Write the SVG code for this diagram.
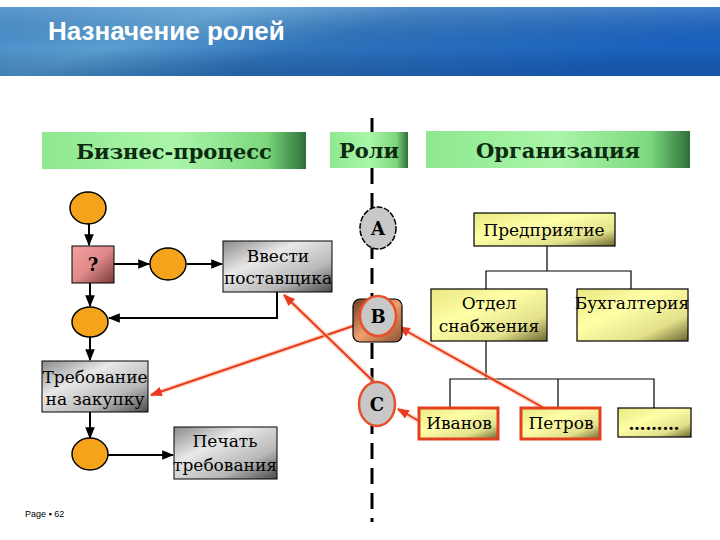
<svg xmlns="http://www.w3.org/2000/svg" width="720" height="540" viewBox="0 0 720 540">
<defs>
<linearGradient id="banner" x1="0" y1="0" x2="1" y2="0.3">
<stop offset="0" stop-color="#3f86c6"/><stop offset="0.3" stop-color="#5a9ed2"/><stop offset="0.55" stop-color="#2f74bc"/><stop offset="1" stop-color="#1a62c0"/>
</linearGradient>
<linearGradient id="bannerShade" x1="0" y1="0" x2="0" y2="1">
<stop offset="0" stop-color="#ffffff" stop-opacity="0.15"/><stop offset="0.6" stop-color="#000000" stop-opacity="0"/><stop offset="1" stop-color="#0a3060" stop-opacity="0.25"/>
</linearGradient>
<linearGradient id="green" x1="0" y1="0" x2="1" y2="0">
<stop offset="0" stop-color="#8ee88e"/><stop offset="0.5" stop-color="#aaf5aa"/><stop offset="0.85" stop-color="#7cd87c"/><stop offset="1" stop-color="#2f6f3a"/>
</linearGradient>
<linearGradient id="gray" x1="0" y1="0" x2="1" y2="1">
<stop offset="0" stop-color="#8a8a8a"/><stop offset="0.35" stop-color="#e8e8e8"/><stop offset="0.7" stop-color="#b8b8b8"/><stop offset="1" stop-color="#4a4a4a"/>
</linearGradient>
<linearGradient id="pink" x1="0" y1="0" x2="1" y2="1">
<stop offset="0" stop-color="#f2a0a0"/><stop offset="0.5" stop-color="#e08a8a"/><stop offset="1" stop-color="#7a3838"/>
</linearGradient>
<linearGradient id="yellow" x1="0" y1="0" x2="1" y2="1">
<stop offset="0" stop-color="#e8e880"/><stop offset="0.4" stop-color="#ffffa8"/><stop offset="0.75" stop-color="#e2e08a"/><stop offset="1" stop-color="#6a6430"/>
</linearGradient>
<linearGradient id="brown" x1="0" y1="0" x2="1" y2="1">
<stop offset="0" stop-color="#6a3a20"/><stop offset="0.5" stop-color="#f0a070"/><stop offset="1" stop-color="#8a5030"/>
</linearGradient>
<marker id="ah" viewBox="0 0 10 10" refX="9" refY="5" markerWidth="6" markerHeight="6" orient="auto">
<path d="M0,1 L10,5 L0,9 z" fill="#000"/>
</marker>
<marker id="rah" viewBox="0 0 10 10" refX="9" refY="5" markerWidth="6" markerHeight="6" orient="auto">
<path d="M0,1 L10,5 L0,9 z" fill="#e83a1e"/>
</marker>
</defs>
<style>
.hdr{fill:url(#green)}
.htxt{font-family:"DejaVu Serif","Liberation Serif",serif;font-weight:bold;font-size:21px;fill:#0b2a10;text-anchor:middle}
.txt{font-family:"DejaVu Serif","Liberation Serif",serif;font-size:17px;fill:#000;text-anchor:middle}
.ev{fill:#f6a31c;stroke:#000;stroke-width:1.5}
.gbox{fill:url(#gray);stroke:#000;stroke-width:1}
.ybox{fill:url(#yellow);stroke:#000;stroke-width:1.2}
.rbox{fill:url(#yellow);stroke:#e0401e;stroke-width:3}
.role{fill:#c8c8c8;stroke:#000;stroke-width:1.5}
.roler{fill:#c8c8c8;stroke:#e8502a;stroke-width:2.5}
.flow{fill:none;stroke:#000;stroke-width:2}
.tree{fill:none;stroke:#000;stroke-width:1.2}
.red{fill:none;stroke:#e83a1e;stroke-width:2}
.glow{fill:none;stroke:#ffc0a0;stroke-width:5;stroke-opacity:0.6}
.rtxt{font-family:"DejaVu Serif","Liberation Serif",serif;font-weight:bold;font-size:18px;fill:#000;text-anchor:middle}
</style>
<rect width="720" height="540" fill="#ffffff"/>
<g id="banner-g">
<rect x="0" y="7" width="720" height="69" fill="url(#banner)"/>
<rect x="0" y="7" width="720" height="69" fill="url(#bannerShade)"/>
<text x="48" y="40" font-family="Liberation Sans, Arial, sans-serif" font-weight="bold" font-size="26" fill="#ffffff">Назначение ролей</text>
</g>
<g id="divider">
<line x1="372" y1="118" x2="372" y2="522" stroke="#000" stroke-width="3" stroke-dasharray="16 9"/>
</g>
<g id="hdr-bp"><rect class="hdr" x="42" y="132" width="264" height="37"/><text class="htxt" x="174" y="159">Бизнес-процесс</text></g>
<g id="hdr-roles"><rect class="hdr" x="330" y="132" width="78" height="36"/><text class="htxt" x="369" y="158">Роли</text></g>
<g id="hdr-org"><rect class="hdr" x="426" y="131" width="264" height="37"/><text class="htxt" x="558" y="158">Организация</text></g>

<g id="connectors">
<line class="flow" x1="89" y1="224" x2="89" y2="245" marker-end="url(#ah)"/>
<line class="flow" x1="114" y1="264" x2="149" y2="264" marker-end="url(#ah)"/>
<line class="flow" x1="187" y1="264" x2="222" y2="264" marker-end="url(#ah)"/>
<polyline class="flow" points="277,292 277,318 109,318" marker-end="url(#ah)"/>
<line class="flow" x1="90" y1="283" x2="90" y2="306" marker-end="url(#ah)"/>
<line class="flow" x1="90" y1="337" x2="90" y2="360" marker-end="url(#ah)"/>
<line class="flow" x1="90" y1="412" x2="90" y2="438" marker-end="url(#ah)"/>
<line class="flow" x1="108" y1="455" x2="173" y2="455" marker-end="url(#ah)"/>
<polyline class="tree" points="547,246 547,271"/>
<polyline class="tree" points="486,289 486,271 631,271 631,289"/>
<polyline class="tree" points="486,341 486,379"/>
<polyline class="tree" points="450,408 450,379 654,379 654,408"/>
<line class="tree" x1="558" y1="379" x2="558" y2="408"/>
<g id="red-links">
<line class="glow" x1="419" y1="421" x2="398" y2="409"/>
<line class="red" x1="419" y1="421" x2="398" y2="409" marker-end="url(#rah)"/>
<line class="glow" x1="544" y1="408" x2="399" y2="327"/>
<line class="red" x1="544" y1="408" x2="399" y2="327" marker-end="url(#rah)"/>
<line class="glow" x1="356" y1="325" x2="151" y2="395"/>
<line class="red" x1="356" y1="325" x2="151" y2="395" marker-end="url(#rah)"/>
<line class="glow" x1="375" y1="383" x2="284" y2="295"/>
<line class="red" x1="375" y1="383" x2="284" y2="295" marker-end="url(#rah)"/>
</g>
</g>

<g id="ev1"><ellipse class="ev" cx="88" cy="208" rx="18" ry="16"/></g>
<g id="q"><rect x="72" y="246" width="42" height="37" fill="url(#pink)" stroke="#000" stroke-width="1"/><text class="rtxt" x="93" y="271">?</text></g>
<g id="ev2"><ellipse class="ev" cx="168" cy="264" rx="18" ry="16"/></g>
<g id="enter"><rect class="gbox" x="223" y="241" width="109" height="51"/><text class="txt" x="278" y="262">Ввести</text><text class="txt" x="278" y="284">поставщика</text></g>
<g id="ev3"><ellipse class="ev" cx="90" cy="322" rx="18" ry="15"/></g>
<g id="req"><rect class="gbox" x="42" y="361" width="106" height="51"/><text class="txt" x="95" y="383" font-size="17.5">Требование</text><text class="txt" x="95" y="405" font-size="17.5">на закупку</text></g>
<g id="ev4"><ellipse class="ev" cx="90" cy="454" rx="18" ry="16"/></g>
<g id="print"><rect class="gbox" x="174" y="427" width="103" height="52"/><text class="txt" x="225" y="447">Печать</text><text class="txt" x="225" y="471">требования</text></g>

<g id="roleA"><ellipse class="role" cx="378" cy="228" rx="18" ry="21" stroke-dasharray="6 1.5"/><text class="rtxt" x="378" y="235">А</text></g>
<g id="roleB"><rect x="353" y="299" width="49" height="43" rx="7" fill="url(#brown)" stroke="#000" stroke-width="1.2"/><ellipse class="roler" cx="378" cy="316" rx="18" ry="20"/><text class="rtxt" x="378" y="323">В</text></g>
<g id="roleC"><ellipse class="roler" cx="377" cy="404" rx="18" ry="22"/><text class="rtxt" x="377" y="411">С</text></g>

<g id="ent"><rect class="ybox" x="474" y="213" width="141" height="33"/><text class="txt" x="544" y="236">Предприятие</text></g>
<g id="supply"><rect class="ybox" x="431" y="289" width="116" height="52"/><text class="txt" x="489" y="309">Отдел</text><text class="txt" x="489" y="332">снабжения</text></g>
<g id="acct"><rect class="ybox" x="577" y="289" width="111" height="52"/><text class="txt" x="632" y="309">Бухгалтерия</text></g>
<g id="ivanov"><rect class="rbox" x="419" y="408" width="79" height="31"/><text class="txt" x="459" y="429">Иванов</text></g>
<g id="petrov"><rect class="rbox" x="521" y="408" width="79" height="31"/><text class="txt" x="561" y="429">Петров</text></g>
<g id="more"><rect class="ybox" x="618" y="408" width="73" height="29"/><text class="txt" x="654" y="430" font-weight="bold">………</text></g>

<text x="25" y="517" font-family="Liberation Sans, Arial, sans-serif" font-size="9" fill="#000">Page ▪ 62</text>
</svg>
